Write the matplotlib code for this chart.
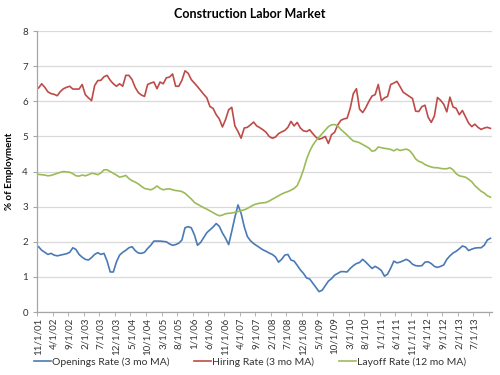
import matplotlib
matplotlib.use("Agg")
import matplotlib.pyplot as plt
import numpy as np

# monthly series, 11/1/01 .. 12/1/13
openings = [
    1.86, 1.76, 1.70, 1.64, 1.67, 1.62, 1.60, 1.62, 1.64, 1.66,
    1.70, 1.83, 1.78, 1.64, 1.56, 1.50, 1.48, 1.55, 1.64, 1.69,
    1.64, 1.67, 1.45, 1.14, 1.14, 1.43, 1.62, 1.70, 1.76, 1.83,
    1.86, 1.75, 1.68, 1.67, 1.70, 1.81, 1.90, 2.02, 2.02, 2.02,
    2.01, 2.00, 1.94, 1.90, 1.92, 1.96, 2.05, 2.40, 2.43, 2.40,
    2.20, 1.90, 1.98, 2.12, 2.26, 2.34, 2.42, 2.52, 2.44, 2.25,
    2.10, 1.92, 2.30, 2.70, 3.05, 2.81, 2.43, 2.15, 2.03, 1.95,
    1.89, 1.83, 1.77, 1.73, 1.68, 1.64, 1.57, 1.42, 1.50, 1.62,
    1.64, 1.48, 1.45, 1.33, 1.20, 1.10, 0.97, 0.94, 0.82, 0.70,
    0.58, 0.62, 0.75, 0.88, 0.95, 1.05, 1.10, 1.15, 1.15, 1.14,
    1.24, 1.32, 1.38, 1.41, 1.50, 1.42, 1.33, 1.24, 1.30, 1.25,
    1.18, 1.02, 1.08, 1.25, 1.45, 1.40, 1.42, 1.46, 1.50, 1.45,
    1.36, 1.32, 1.31, 1.32, 1.42, 1.43, 1.38, 1.30, 1.27, 1.30,
    1.34, 1.50, 1.60, 1.68, 1.73, 1.80, 1.88, 1.85, 1.75, 1.79,
    1.82, 1.83, 1.83, 1.90, 2.05, 2.10,
]
hiring = [
    6.38, 6.50, 6.40, 6.27, 6.22, 6.20, 6.16, 6.28, 6.36, 6.40,
    6.43, 6.35, 6.35, 6.35, 6.48, 6.19, 6.10, 6.02, 6.45, 6.59,
    6.60, 6.70, 6.74, 6.60, 6.50, 6.43, 6.50, 6.43, 6.74, 6.74,
    6.62, 6.40, 6.25, 6.18, 6.14, 6.48, 6.52, 6.55, 6.36, 6.55,
    6.50, 6.67, 6.69, 6.78, 6.43, 6.43, 6.60, 6.87, 6.80, 6.62,
    6.52, 6.42, 6.31, 6.20, 6.10, 5.85, 5.80, 5.62, 5.50, 5.27,
    5.48, 5.76, 5.83, 5.30, 5.14, 4.95, 5.24, 5.26, 5.33, 5.41,
    5.30, 5.25, 5.19, 5.12, 5.00, 4.95, 4.98, 5.08, 5.13, 5.17,
    5.26, 5.43, 5.30, 5.40, 5.24, 5.16, 5.14, 5.19, 5.08, 4.98,
    4.92, 4.95, 5.00, 4.80, 5.05, 5.12, 5.33, 5.46, 5.50, 5.52,
    5.80, 6.22, 6.36, 5.78, 5.68, 5.82, 6.00, 6.15, 6.19, 6.48,
    6.02, 6.10, 6.14, 6.48, 6.52, 6.57, 6.42, 6.26, 6.20, 6.14,
    6.08, 5.72, 5.71, 5.85, 5.89, 5.55, 5.40, 5.58, 6.11, 6.03,
    5.92, 5.70, 6.12, 5.84, 5.80, 5.62, 5.74, 5.56, 5.38, 5.28,
    5.35, 5.26, 5.20, 5.24, 5.26, 5.23,
]
layoffs = [
    3.92, 3.91, 3.90, 3.88, 3.89, 3.92, 3.95, 3.98, 4.00, 3.99,
    3.98, 3.94, 3.88, 3.87, 3.90, 3.88, 3.91, 3.95, 3.94, 3.91,
    3.96, 4.05, 4.05, 4.00, 3.95, 3.90, 3.84, 3.86, 3.89, 3.80,
    3.74, 3.70, 3.65, 3.58, 3.52, 3.50, 3.48, 3.52, 3.59, 3.52,
    3.48, 3.50, 3.51, 3.48, 3.46, 3.45, 3.43, 3.38, 3.30, 3.22,
    3.12, 3.07, 3.02, 2.97, 2.93, 2.88, 2.83, 2.78, 2.74, 2.76,
    2.80, 2.81, 2.82, 2.84, 2.86, 2.89, 2.91, 2.95, 3.00, 3.05,
    3.08, 3.10, 3.11, 3.12, 3.16, 3.21, 3.26, 3.31, 3.36, 3.40,
    3.43, 3.47, 3.52, 3.60, 3.80, 4.05, 4.35, 4.58, 4.75, 4.88,
    4.98, 5.08, 5.18, 5.28, 5.33, 5.34, 5.30, 5.20, 5.12, 5.04,
    4.95, 4.87, 4.85, 4.82, 4.77, 4.72, 4.67, 4.58, 4.60, 4.70,
    4.68, 4.66, 4.65, 4.63, 4.59, 4.64, 4.60, 4.62, 4.64, 4.60,
    4.50, 4.36, 4.29, 4.26, 4.20, 4.16, 4.13, 4.11, 4.11, 4.09,
    4.08, 4.08, 4.11, 4.05, 3.94, 3.88, 3.86, 3.84, 3.78, 3.71,
    3.60, 3.52, 3.44, 3.39, 3.31, 3.27,
]
tick_labels = [
    "11/1/01", "4/1/02", "9/1/02", "2/1/03", "7/1/03", "12/1/03", "5/1/04",
    "10/1/04", "3/1/05", "8/1/05", "1/1/06", "6/1/06", "11/1/06", "4/1/07",
    "9/1/07", "2/1/08", "7/1/08", "12/1/08", "5/1/09", "10/1/09", "3/1/10",
    "8/1/10", "1/1/11", "6/1/11", "11/1/11", "4/1/12", "9/1/12", "2/1/13",
    "7/1/13",
]

plt.rcParams['font.family'] = ['Lato', 'DejaVu Sans']
txt = '#333333'

fig = plt.figure(figsize=(5, 3.75), dpi=100)
fig.patch.set_facecolor('white')
ax = fig.add_axes([0.074, 0.168, 0.91, 0.749])

x = np.arange(len(hiring))
ax.plot(x, openings, color='#4A7AB5', lw=1.2, label='Openings Rate (3 mo MA)')
ax.plot(x, hiring, color='#BE4B48', lw=1.2, label='Hiring Rate (3 mo MA)')
ax.plot(x, layoffs, color='#9BBB59', lw=1.2, label='Layoff Rate (12 mo MA)')

ax.set_xlim(-0.5, len(hiring) - 0.5)
ax.set_ylim(0, 8)
ax.set_yticks(range(0, 9))
ax.yaxis.grid(True, color='#D9D9D9', lw=0.9)
ax.set_axisbelow(True)

ax.set_xticks(np.arange(len(tick_labels)) * 5)
ax.set_xticklabels(tick_labels, rotation=90, fontsize=7, color=txt)
ax.set_xticks(np.arange(len(tick_labels) + 1) * 5 - 0.5, minor=True)
ax.tick_params(axis='x', which='major', length=0, pad=4)
ax.tick_params(axis='x', which='minor', length=3, color='#A6A6A6')
ax.tick_params(axis='y', length=3, color='#A6A6A6', labelsize=7, labelcolor=txt)

for s in ['top', 'right']:
    ax.spines[s].set_visible(False)
for s in ['left', 'bottom']:
    ax.spines[s].set_color('#A6A6A6')
    ax.spines[s].set_linewidth(0.9)

ax.set_ylabel('% of Employment', fontsize=7, fontweight='bold', labelpad=6)
fig.text(0.5, 0.962, 'Construction Labor Market', ha='center', va='center',
         fontsize=9, fontweight='bold')

leg = fig.legend(loc='center', bbox_to_anchor=(0.5, 0.035), ncol=3, frameon=False,
                 fontsize=7.5, handlelength=1.6, handletextpad=0.1, columnspacing=2.4)
for t in leg.get_texts():
    t.set_color(txt)

fig.savefig('out.png', dpi=100, facecolor='white')
